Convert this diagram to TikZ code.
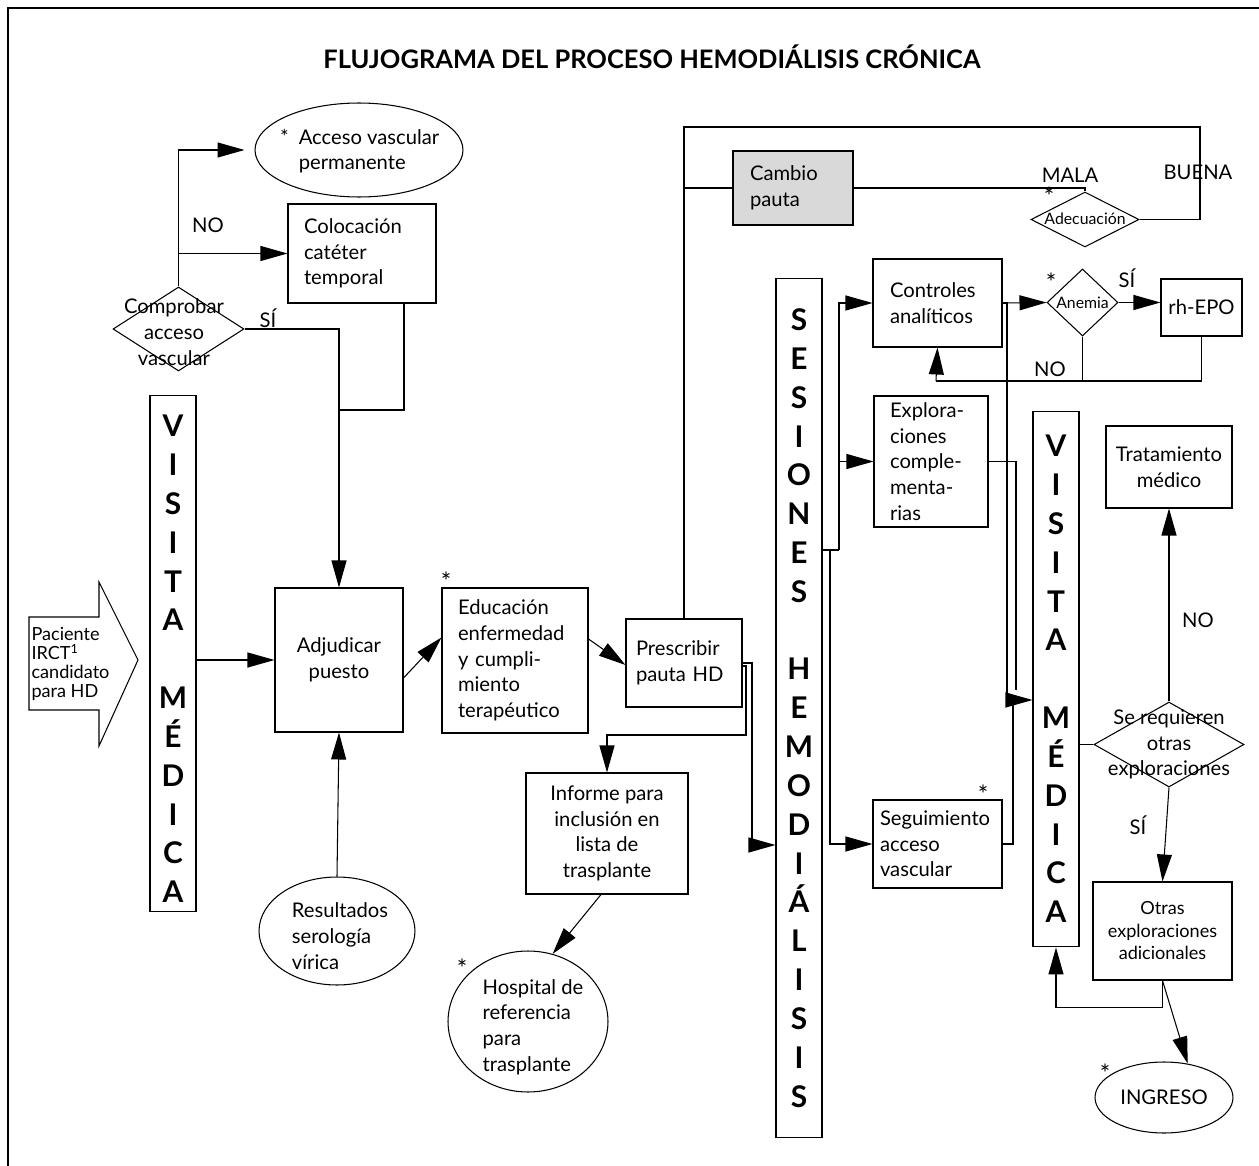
\documentclass[tikz,border=0pt]{standalone}
\usepackage{fontspec}
\setmainfont{Lato}
\usetikzlibrary{shapes.geometric,arrows.meta}

\newcommand\txt{\fontsize{11.5}{14.6}\selectfont}
\newcommand\medio{\fontsize{10.3}{12.8}\selectfont}
\newcommand\chico{\fontsize{9}{10}\selectfont}
\newcommand\barra{\fontsize{17}{22.1}\selectfont\bfseries}

\begin{document}
\begin{tikzpicture}[x=0.02cm,y=-0.02cm,line width=0.6pt,
	arr/.style={-{Triangle[length=0.54cm,width=0.3cm]}},
	caja/.style={draw,inner sep=0pt,font=\txt,align=left},
	vert/.style={draw,inner sep=0pt,minimum width=0.92cm,font=\barra,align=center},
	rombo/.style={draw,diamond,inner sep=0pt},
	elip/.style={draw,ellipse,inner sep=0pt},
	etq/.style={font=\txt,inner sep=0pt},
	ast/.style={font=\fontsize{14}{14}\selectfont,inner sep=0pt}]
	\useasboundingbox (0,0) rectangle (1259,1166);
	\draw (8,1166) -- (8,8) -- (1259,8);
	\node[font=\fontsize{14.5}{17}\selectfont\bfseries] (titulo) at (652,57) {FLUJOGRAMA\ DEL\ PROCESO\ HEMODIÁLISIS\ CRÓNICA};

	% columna izquierda
	\node[elip,minimum width=4.16cm,minimum height=1.88cm] (acceso) at (359,150) {};
	\node[etq,align=left] (accesot) at (369,151) {\llap{*\hspace{0.5em}}Acceso vascular\\permanente};
	\node[caja,minimum width=2.96cm,minimum height=1.98cm,text width=2.32cm,inner xsep=0.32cm] (coloc) at (362,253.5) {Colocación\\catéter\\temporal};
	\node[rombo,minimum width=2.62cm,minimum height=1.68cm] (compr) at (178.5,329) {};
	\node[etq,align=center] (comprt) at (174,332) {Comprobar\\acceso\\vascular};
	\node[etq] (no1) at (208,225) {NO};
	\node[etq] (si1) at (268,318) {SÍ};
	\node[vert,minimum height=10.34cm] (visita1) at (173,653.5) {};
	\node[inner sep=0pt,font=\barra,align=center] (visita1t) at (173,659) {V\\I\\S\\I\\T\\A\\~\\M\\É\\D\\I\\C\\A};
	\draw (29,617) -- (99,617) -- (99,582) -- (138,660) -- (99,746) -- (99,710) -- (29,710) -- cycle;
	\node[anchor=west,inner sep=0pt,align=left,font=\fontsize{10.3}{10.9}\selectfont] (pac) at (31,664) {Paciente\\IRCT\textsuperscript{1}\\candidato\\para HD};
	\node[caja,align=center,minimum width=2.56cm,minimum height=2.88cm] (adjud) at (339,660) {Adjudicar\\puesto};
	\node[elip,minimum width=3.12cm,minimum height=2.16cm] (result) at (337,931) {};
	\node[etq,align=left] (resultt) at (340,936) {Resultados\\serología\\vírica};

	\draw[arr,shorten >=0.2cm] (compr.north) |- (acceso.west);
	\draw[arr] (compr.north |- coloc.west) -- (coloc.west);
	\draw[arr] (compr.east) -| (adjud.north);
	\coordinate (cs) at (404,303);
	\coordinate (cj) at (339,410);
	\draw (cs) |- (cj);
	\draw[arr] (visita1.east |- adjud.west) -- (adjud.west);
	\draw[arr] (result.north) -- (adjud.south);

	% centro
	\node[ast] (ast1) at (446,581) {*};
	\node[caja,minimum width=2.92cm,minimum height=2.9cm,text width=2.28cm,inner xsep=0.32cm] (educ) at (515,660.5) {Educación\\enfermedad\\y cumpli-\\miento\\terapéutico};
	\node[caja,minimum width=2.32cm,minimum height=1.76cm,text width=1.92cm,inner xsep=0.2cm] (presc) at (684,663) {Prescribir\\pauta HD};
	\node[caja,align=center,minimum width=3.24cm,minimum height=2.42cm] (informe) at (607,833.5) {Informe para\\inclusión en\\lista de\\trasplante};
	\node[elip,minimum width=3.2cm,minimum height=2.82cm] (hosp) at (528,1021.5) {};
	\node[etq,align=left] (hospt) at (533,1027) {Hospital de\\referencia\\para\\trasplante};
	\node[ast] (ast2) at (462,968) {*};

	\draw[arr] ([yshift=-0.36cm]adjud.east) -- ([yshift=0.46cm]educ.west);
	\draw[arr] ([yshift=0.43cm]educ.east) -- ([yshift=-0.04cm]presc.west);
	\coordinate (pi) at (746,735);
	\draw[arr] ([yshift=-0.06cm]presc.east) -| (pi) -| (informe.north);
	\draw[arr] ([xshift=-0.12cm]informe.south) -- (hosp.70);

	% lazo superior
	\node[caja,fill=gray!30,minimum width=2.4cm,minimum height=1.48cm,text width=1.72cm,inner xsep=0.34cm] (cambio) at (793,188) {Cambio\\pauta};
	\node[rombo,minimum width=2.16cm,minimum height=1.1cm] (adecu) at (1085,219.5) {};
	\node[inner sep=0pt,font=\chico] (adecut) at (1085,219) {Adecuación};
	\node[ast] (ast3) at (1049,196) {*};
	\node[etq] (mala) at (1070,175) {MALA};
	\node[etq] (buena) at (1198,172) {BUENA};
	\coordinate (topR) at (1200,127);
	\draw (presc.north) |- (topR) |- (adecu.east);
	\draw (presc.north |- cambio.west) -- (cambio.west);
	\draw (cambio.east) -| (adecu.north);

	% sesiones
	\node[vert,minimum height=17.2cm] (sesiones) at (799,708) {S\\E\\S\\I\\O\\N\\E\\S\\~\\H\\E\\M\\O\\D\\I\\Á\\L\\I\\S\\I\\S};
	\coordinate (ps) at (752,845);
	\draw[arr] (presc.east) -| (ps) -- (ps -| sesiones.west);

	\node[caja,minimum width=2.58cm,minimum height=1.76cm,text width=1.9cm,inner xsep=0.34cm] (control) at (937.5,303) {Controles\\analíticos};
	\node[caja,minimum width=2.28cm,minimum height=2.62cm,text width=1.64cm,inner xsep=0.32cm] (explor) at (931,461.5) {Explora-\\ciones\\comple-\\menta-\\rias};
	\node[caja,minimum width=2.58cm,minimum height=1.76cm,text width=2.3cm,inner xsep=0.14cm] (segui) at (937.5,844) {Seguimiento\\acceso\\vascular};
	\node[ast] (ast4) at (983,794) {*};
	\coordinate (sj) at (839,550);
	\coordinate (sk) at (830,550);
	\draw (sesiones.east |- sj) -- (sj);
	\draw[arr] (sj) |- (control.west);
	\draw[arr] (sj |- explor.west) -- (explor.west);
	\draw[arr] (sk) |- (segui.west);

	% anemia
	\node[rombo,minimum width=1.42cm,minimum height=1.34cm] (anemia) at (1082.5,302.5) {};
	\node[inner sep=0pt,font=\chico] (anemiat) at (1082.5,302.5) {Anemia};
	\node[ast] (ast5) at (1051,282) {*};
	\node[etq] (si2) at (1127,278) {SÍ};
	\node[caja,align=center,minimum width=1.62cm,minimum height=1.14cm] (rhepo) at (1201.5,307.5) {rh-EPO};
	\draw[arr] (control.east) -- (anemia.west);
	\draw[arr] (anemia.east) -- (anemia.east -| rhepo.west);
	\coordinate (nl) at (936,381);
	\draw (rhepo.south) |- (nl);
	\draw (anemia.south) -- (anemia.south |- nl);
	\draw[arr] (nl) -- (control.south);
	\node[etq] (no2) at (1050,369) {NO};

	% visita medica derecha
	\node[vert,minimum height=10.72cm] (visita2) at (1056,679) {V\\I\\S\\I\\T\\A\\~\\M\\É\\D\\I\\C\\A};
	\coordinate (va) at (1007,700);
	\coordinate (vb) at (1016,690);
	\coordinate (vc) at (1013,700);
	\draw[arr] (control.east) -| (va) -- (va -| visita2.west);
	\draw (explor.east) -| (vb);
	\draw (segui.east) -| (vc);

	\node[caja,align=center,minimum width=2.52cm,minimum height=1.64cm] (tratam) at (1169,467) {Tratamiento\\médico};
	\node[rombo,minimum width=3cm,minimum height=1.7cm] (sereq) at (1169,744.5) {};
	\node[etq,align=center] (sereqt) at (1169,744.5) {Se requieren\\otras\\exploraciones};
	\node[etq] (no3) at (1198,620) {NO};
	\node[etq] (si3) at (1138,825) {SÍ};
	\node[caja,align=center,font=\medio,minimum width=2.78cm,minimum height=1.96cm] (otras) at (1162.5,931) {Otras\\exploraciones\\adicionales};
	\node[elip,minimum width=2.76cm,minimum height=1.42cm] (ingreso) at (1164,1097.5) {};
	\node[etq] (ingresot) at (1164,1097) {INGRESO};
	\node[ast] (ast6) at (1105,1073) {*};

	\draw (visita2.east |- sereq.west) -- (sereq.west);
	\draw[arr] (sereq.north) -- (tratam.south);
	\draw[arr] (sereq.south) -- (otras.north);
	\draw[arr] (otras.south) -- ++(0,27) -| (visita2.south);
	\draw[arr] (otras.south) -- (ingreso.55);
\end{tikzpicture}
\end{document}
